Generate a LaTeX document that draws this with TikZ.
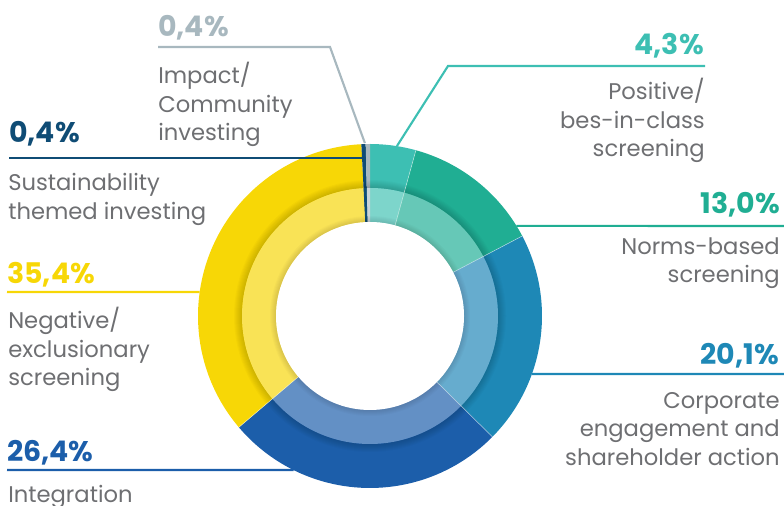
\documentclass[tikz,border=0pt]{standalone}
\usepackage{fontspec}
\setmainfont{Poppins}
\usetikzlibrary{calc}
\definecolor{cTeal}{HTML}{3DBFB3}
\definecolor{cTealL}{HTML}{7DD5CB}
\definecolor{cGreen}{HTML}{20AE93}
\definecolor{cGreenL}{HTML}{66C8B7}
\definecolor{cBlue}{HTML}{1E88B6}
\definecolor{cBlueL}{HTML}{66ACCE}
\definecolor{cDark}{HTML}{1C5EAA}
\definecolor{cDarkL}{HTML}{6390C5}
\definecolor{cYellow}{HTML}{F7D706}
\definecolor{cYellowL}{HTML}{F9E356}
\definecolor{cNavy}{HTML}{0F4C75}
\definecolor{cGray}{HTML}{A8B8BF}
\definecolor{cGrayL}{HTML}{C9D4D8}
\definecolor{cText}{HTML}{6E6F72}
\begin{document}
\begin{tikzpicture}[x=0.75pt,y=0.75pt,
    pct/.style={font=\bfseries\fontsize{21.3}{25}\selectfont,inner sep=0pt},
    lbl/.style={font=\fontsize{17}{21.5}\selectfont,text=cText,inner sep=0pt},
    lead/.style={line width=1.6pt}]
  \useasboundingbox (0,0) rectangle (784,506);
  \coordinate (c) at (370,190);
  \foreach \a/\b/\dk/\lt in {90/74.52/cTeal/cTealL,74.52/27.72/cGreen/cGreenL,27.72/-44.64/cBlue/cBlueL,-44.64/-139.68/cDark/cDarkL,-139.68/-267.12/cYellow/cYellowL,-267.12/-268.56/cNavy/cNavy,-268.56/-270/cGray/cGrayL}{
    \fill[\dk] (c) -- ++(\a:172) arc[start angle=\a,end angle=\b,radius=172] -- cycle;
  }
  \foreach \k in {1,...,8}
    \draw[black,opacity=0.018,line width=\k*0.75pt] (c) circle[radius=128+\k/2];
  \foreach \a/\b/\dk/\lt in {90/74.52/cTeal/cTealL,74.52/27.72/cGreen/cGreenL,27.72/-44.64/cBlue/cBlueL,-44.64/-139.68/cDark/cDarkL,-139.68/-267.12/cYellow/cYellowL,-267.12/-268.56/cNavy/cNavy,-268.56/-270/cGray/cGrayL}{
    \fill[\lt] (c) -- ++(\a:128) arc[start angle=\a,end angle=\b,radius=128] -- cycle;
  }
  \foreach \k in {1,...,6}
    \draw[black,opacity=0.018,line width=\k*0.75pt] (c) circle[radius=94+\k/2];
  \foreach \b in {74.52,27.72,-44.64,-139.68}
    \draw[white,opacity=0.6,line width=0.4pt] (c) -- ++(\b:172);
  \fill[white] (c) circle[radius=94];
  % left side
  \node[pct,text=cGray,anchor=north west] (pImpact) at (158,491) {0,4\%};
  \node[lbl,anchor=north west,align=left] (lImpact) at (158,444) {Impact/\\Community\\investing};
  \coordinate (aImpact) at (158,459);
  \coordinate (bImpact) at (330,459);
  \draw[lead,cGray] (aImpact) -- (bImpact) -- ($(c)+(91.7:173)$);
  \node[pct,text=cNavy,anchor=north west] (pTheme) at (9,385) {0,4\%};
  \node[lbl,anchor=north west,align=left] (lTheme) at (8,333) {Sustainability\\themed investing};
  \coordinate (aTheme) at (9,348);
  \draw[lead,cNavy] (aTheme) -- ($(c)+(-7,158)$);
  \node[pct,text=cYellow,anchor=north west] (pNeg) at (7,244) {35,4\%};
  \node[lbl,anchor=north west,align=left] (lNeg) at (8,199) {Negative/\\exclusionary\\screening};
  \coordinate (aNeg) at (7,214);
  \draw[lead,cYellow] (aNeg) -- ($(c)+(172:172)$);
  \node[pct,text=cDark,anchor=north west] (pInt) at (7,66) {26,4\%};
  \node[lbl,anchor=north west,align=left] (lInt) at (8,21) {Integration};
  \coordinate (aInt) at (7,36);
  \draw[lead,cDark] (aInt) -- ($(c)+(-116.4:172)$);
  % right side
  \node[pct,text=cTeal,anchor=north east] (pPos) at (704,473) {4,3\%};
  \node[lbl,anchor=north east,align=right] (lPos) at (705,428) {Positive/\\bes-in-class\\screening};
  \coordinate (aPos) at (705,440);
  \coordinate (bPos) at (448,440);
  \draw[lead,cTeal] (aPos) -- (bPos) -- ($(c)+(81:172)$);
  \node[pct,text=cGreen,anchor=north east] (pNorm) at (780,314) {13,0\%};
  \node[lbl,anchor=north east,align=right] (lNorm) at (780,269) {Norms-based\\screening};
  \coordinate (aNorm) at (784,280);
  \draw[lead,cGreen] (aNorm) -- ($(c)+(31.6:172)$);
  \node[pct,text=cBlue,anchor=north east] (pCorp) at (779,163) {20,1\%};
  \node[lbl,anchor=north east,align=right] (lCorp) at (780,114) {Corporate\\engagement and\\shareholder action};
  \coordinate (aCorp) at (784,132);
  \draw[lead,cBlue] (aCorp) -- ($(c)+(-19.7:172)$);
\end{tikzpicture}
\end{document}
